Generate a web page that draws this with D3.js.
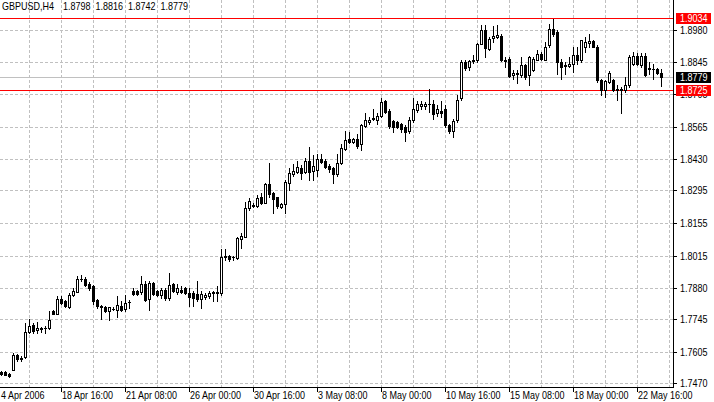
<!DOCTYPE html>
<html><head><meta charset="utf-8">
<script src="https://cdn.jsdelivr.net/npm/d3@7/dist/d3.min.js"></script>
<style>
html,body{margin:0;padding:0;background:#fff;}
svg{display:block;}
text{font-family:"Liberation Sans",Arial,sans-serif;font-size:10px;fill:#000;}
</style></head>
<body>
<svg id="chart" width="714" height="402"></svg>
<script>
const symbolLabel = "GBPUSD,H4";
const opens = [1.7517,1.7517,1.7509,1.7527,1.7593,1.7573,1.7584,1.7689,1.7718,1.7698,1.7703,1.7705,1.7705,1.7779,1.7767,1.7831,1.7821,1.7797,1.7847,1.7862,1.7917,1.7917,1.7897,1.7888,1.7828,1.7803,1.7796,1.7779,1.7789,1.7786,1.7803,1.7789,1.7820,1.7867,1.7864,1.7860,1.7895,1.7831,1.7900,1.7864,1.7847,1.7871,1.7836,1.7895,1.7861,1.7871,1.7878,1.7857,1.7857,1.7853,1.7833,1.7838,1.7843,1.7857,1.7857,1.7857,1.8015,1.8013,1.8009,1.8006,1.8087,1.8098,1.8222,1.8230,1.8229,1.8269,1.8243,1.8321,1.8283,1.8266,1.8226,1.8237,1.8328,1.8364,1.8372,1.8392,1.8372,1.8422,1.8379,1.8382,1.8428,1.8422,1.8401,1.8392,1.8364,1.8411,1.8472,1.8513,1.8503,1.8513,1.8493,1.8571,1.8588,1.8601,1.8598,1.8612,1.8677,1.8635,1.8591,1.8588,1.8578,1.8567,1.8550,1.8595,1.8638,1.8655,1.8655,1.8663,1.8663,1.8624,1.8635,1.8642,1.8574,1.8550,1.8595,1.8688,1.8844,1.8822,1.8847,1.8851,1.8922,1.8979,1.8901,1.8947,1.8950,1.8957,1.8848,1.8858,1.8787,1.8797,1.8787,1.8830,1.8787,1.8811,1.8854,1.8879,1.8854,1.8915,1.8986,1.8971,1.8844,1.8830,1.8825,1.8837,1.8872,1.8851,1.8910,1.8925,1.8933,1.8910,1.8766,1.8723,1.8758,1.8769,1.8730,1.8723,1.8726,1.8744,1.8834,1.8868,1.8830,1.8868,1.8820,1.8816,1.8816,1.8798];
const highs = [1.7522,1.7522,1.7513,1.7601,1.7595,1.7587,1.7729,1.7746,1.7729,1.7732,1.7712,1.7715,1.7779,1.7782,1.7843,1.7843,1.7826,1.7857,1.7878,1.7931,1.7935,1.7925,1.7904,1.7893,1.7831,1.7805,1.7800,1.7797,1.7799,1.7843,1.7821,1.7850,1.7828,1.7878,1.7869,1.7928,1.7906,1.7906,1.7904,1.7869,1.7878,1.7878,1.7942,1.7900,1.7895,1.7885,1.7881,1.7878,1.7864,1.7909,1.7864,1.7857,1.7864,1.7864,1.7885,1.8044,1.8045,1.8020,1.8016,1.8098,1.8113,1.8247,1.8262,1.8243,1.8275,1.8283,1.8328,1.8413,1.8290,1.8269,1.8243,1.8340,1.8389,1.8408,1.8422,1.8403,1.8432,1.8479,1.8446,1.8450,1.8450,1.8428,1.8408,1.8396,1.8450,1.8493,1.8550,1.8546,1.8519,1.8536,1.8581,1.8624,1.8609,1.8645,1.8624,1.8688,1.8683,1.8641,1.8598,1.8591,1.8584,1.8574,1.8607,1.8688,1.8677,1.8677,1.8673,1.8730,1.8683,1.8659,1.8677,1.8659,1.8581,1.8602,1.8702,1.8851,1.8851,1.8854,1.8872,1.8925,1.9000,1.9000,1.8950,1.8996,1.9000,1.8964,1.8865,1.8865,1.8808,1.8808,1.8865,1.8837,1.8868,1.8865,1.8896,1.8886,1.8929,1.9007,1.9028,1.8979,1.8858,1.8844,1.8865,1.8907,1.8907,1.8939,1.8950,1.8964,1.8936,1.8915,1.8773,1.8766,1.8804,1.8773,1.8744,1.8737,1.8780,1.8872,1.8886,1.8882,1.8882,1.8882,1.8844,1.8837,1.8820,1.8816];
const lows = [1.7505,1.7505,1.7498,1.7526,1.7567,1.7564,1.7581,1.7684,1.7686,1.7684,1.7692,1.7686,1.7701,1.7765,1.7766,1.7808,1.7796,1.7793,1.7843,1.7860,1.7906,1.7888,1.7871,1.7810,1.7793,1.7746,1.7774,1.7743,1.7782,1.7753,1.7779,1.7779,1.7793,1.7850,1.7848,1.7853,1.7821,1.7786,1.7850,1.7846,1.7836,1.7828,1.7828,1.7861,1.7853,1.7857,1.7853,1.7800,1.7800,1.7821,1.7793,1.7833,1.7836,1.7824,1.7821,1.7850,1.7999,1.7995,1.7999,1.8002,1.8050,1.8095,1.8212,1.8226,1.8226,1.8237,1.8240,1.8269,1.8200,1.8219,1.8219,1.8200,1.8297,1.8357,1.8368,1.8343,1.8368,1.8340,1.8340,1.8357,1.8411,1.8389,1.8375,1.8326,1.8357,1.8408,1.8467,1.8496,1.8497,1.8475,1.8467,1.8567,1.8581,1.8595,1.8581,1.8607,1.8624,1.8560,1.8546,1.8561,1.8546,1.8507,1.8539,1.8588,1.8630,1.8645,1.8645,1.8630,1.8602,1.8612,1.8607,1.8565,1.8539,1.8524,1.8588,1.8680,1.8811,1.8808,1.8839,1.8844,1.8919,1.8865,1.8896,1.8929,1.8947,1.8848,1.8822,1.8780,1.8773,1.8752,1.8780,1.8773,1.8744,1.8805,1.8851,1.8851,1.8851,1.8907,1.8957,1.8794,1.8773,1.8791,1.8822,1.8801,1.8834,1.8844,1.8886,1.8907,1.8907,1.8758,1.8702,1.8695,1.8752,1.8720,1.8680,1.8626,1.8716,1.8737,1.8830,1.8830,1.8822,1.8783,1.8794,1.8773,1.8794,1.8742];
const closes = [1.7509,1.7507,1.7502,1.7593,1.7573,1.7581,1.7691,1.7715,1.7696,1.7708,1.7705,1.7706,1.7740,1.7767,1.7831,1.7814,1.7800,1.7850,1.7864,1.7918,1.7916,1.7893,1.7878,1.7821,1.7800,1.7799,1.7779,1.7796,1.7790,1.7807,1.7786,1.7814,1.7817,1.7853,1.7853,1.7895,1.7828,1.7900,1.7853,1.7850,1.7871,1.7836,1.7893,1.7864,1.7878,1.7861,1.7857,1.7838,1.7836,1.7833,1.7853,1.7850,1.7857,1.7859,1.7862,1.8010,1.8009,1.8002,1.8010,1.8091,1.8101,1.8219,1.8251,1.8231,1.8262,1.8243,1.8321,1.8279,1.8260,1.8229,1.8237,1.8332,1.8368,1.8379,1.8396,1.8371,1.8422,1.8375,1.8399,1.8428,1.8418,1.8396,1.8385,1.8364,1.8411,1.8475,1.8510,1.8503,1.8513,1.8484,1.8574,1.8598,1.8598,1.8603,1.8612,1.8673,1.8630,1.8570,1.8567,1.8567,1.8556,1.8546,1.8598,1.8641,1.8666,1.8666,1.8663,1.8664,1.8621,1.8641,1.8624,1.8574,1.8551,1.8591,1.8683,1.8844,1.8820,1.8848,1.8851,1.8922,1.8979,1.8905,1.8943,1.8953,1.8959,1.8851,1.8854,1.8783,1.8797,1.8791,1.8830,1.8780,1.8865,1.8858,1.8879,1.8858,1.8910,1.8986,1.8962,1.8842,1.8822,1.8828,1.8837,1.8872,1.8851,1.8936,1.8929,1.8933,1.8910,1.8766,1.8723,1.8761,1.8797,1.8726,1.8723,1.8730,1.8744,1.8865,1.8868,1.8834,1.8868,1.8787,1.8814,1.8815,1.8797,1.8779];
const yTickLabels = ["1.8980","1.8845","1.8705","1.8565","1.8430","1.8295","1.8155","1.8015","1.7880","1.7745","1.7605","1.7470"];
const firstDateLabel = "4 Apr 2006";
const xTickLabels = ["18 Apr 16:00","21 Apr 08:00","26 Apr 00:00","30 Apr 16:00","3 May 08:00","8 May 00:00","10 May 16:00","15 May 08:00","18 May 00:00","22 May 16:00"];
const xTickBars = [15,31,47,63,79,95,111,127,143,159];
const redLevels = [1.9034, 1.8725];
const bidLevel = 1.8779;

const W = 714, H = 402, plotR = 673, plotB = 387;
const SX = 0.9; // horizontal text compression to mimic the narrow bitmap UI font
const svg = d3.select("#chart");
const x = d3.scaleLinear().domain([-0.25, 168]).range([0, plotR]);
const y = d3.scaleLinear().domain([1.74550, 1.91088]).range([plotB, 0]);
const py = v => Math.round(y(v));
const px = i => Math.round(x(i));

const bars = opens.map((o, i) => ({i, o, h: highs[i], l: lows[i], c: closes[i]}));

const g = svg.append("g").attr("shape-rendering", "crispEdges");

// grid
const gridColor = "#c0c0c0";
g.selectAll("line.hg").data(yTickLabels).join("line")
  .attr("x1", 0).attr("x2", plotR)
  .attr("y1", d => py(+d) + 0.5).attr("y2", d => py(+d) + 0.5)
  .attr("stroke", gridColor).attr("stroke-dasharray", "3,2");
const vGrid = d3.range(7, 168, 8);
g.selectAll("line.vg").data(vGrid).join("line")
  .attr("x1", d => px(d) + 0.5).attr("x2", d => px(d) + 0.5)
  .attr("y1", 0).attr("y2", plotB)
  .attr("stroke", gridColor).attr("stroke-dasharray", "3,2");

// level lines
g.append("line").attr("x1", 0).attr("x2", plotR)
  .attr("y1", py(bidLevel) + 0.5).attr("y2", py(bidLevel) + 0.5).attr("stroke", "#c0c0c0");
g.selectAll("line.red").data(redLevels).join("line")
  .attr("x1", 0).attr("x2", plotR)
  .attr("y1", d => py(d) + 0.5).attr("y2", d => py(d) + 0.5).attr("stroke", "#ff0000");

// candles
const cg = g.append("g");
bars.forEach(b => {
  const cx = px(b.i);
  cg.append("line").attr("x1", cx + 0.5).attr("x2", cx + 0.5)
    .attr("y1", py(b.h)).attr("y2", py(b.l) + 1).attr("stroke", "#000");
  const top = py(Math.max(b.o, b.c)), bot = py(Math.min(b.o, b.c));
  if (bot - top < 1) {
    cg.append("rect").attr("x", cx - 1).attr("y", top).attr("width", 3).attr("height", 1).attr("fill", "#000");
  } else if (b.c >= b.o) {
    cg.append("rect").attr("x", cx - 0.5).attr("y", top + 0.5).attr("width", 2).attr("height", bot - top)
      .attr("fill", "#fff").attr("stroke", "#000");
  } else {
    cg.append("rect").attr("x", cx - 1).attr("y", top).attr("width", 3).attr("height", bot - top + 1).attr("fill", "#000");
  }
});

// frame
g.append("line").attr("x1", plotR + 0.5).attr("x2", plotR + 0.5).attr("y1", 0).attr("y2", plotB + 1).attr("stroke", "#000");
g.append("line").attr("x1", 0).attr("x2", plotR + 1).attr("y1", plotB + 0.5).attr("y2", plotB + 0.5).attr("stroke", "#000");

// y axis ticks
g.selectAll("line.yt").data(yTickLabels).join("line")
  .attr("x1", plotR).attr("x2", plotR + 4)
  .attr("y1", d => py(+d) + 0.5).attr("y2", d => py(+d) + 0.5).attr("stroke", "#000");
// x axis ticks
g.selectAll("line.xt").data(xTickBars).join("line")
  .attr("x1", d => px(d) + 0.5).attr("x2", d => px(d) + 0.5)
  .attr("y1", plotB).attr("y2", plotB + 5).attr("stroke", "#000");

// text layer (horizontally compressed)
const tg = svg.append("g").attr("transform", `scale(${SX},1)`);
function label(xx, yy, t, color) {
  const el = tg.append("text").attr("x", xx / SX).attr("y", yy).text(t);
  if (color) el.style("fill", color);
  return el;
}
yTickLabels.forEach(d => label(plotR + 7, py(+d) + 4, d));
label(1, 399, firstDateLabel);
xTickLabels.forEach((d, k) => label(px(xTickBars[k]) + 1, 399, d));

// price tags
const tagG = svg.append("g").attr("transform", `scale(${SX},1)`);
redLevels.concat([bidLevel]).forEach(v => {
  tagG.append("rect").attr("x", (plotR + 3) / SX).attr("y", py(v) - 5).attr("width", 35 / SX).attr("height", 11)
    .attr("fill", v === bidLevel ? "#000" : "#ff0000").attr("shape-rendering", "crispEdges");
  tagG.append("text").attr("x", (plotR + 7) / SX).attr("y", py(v) + 4).style("fill", "#fff").text(v.toFixed(4));
});

// header
const last = bars[bars.length - 1];
const headerItems = [symbolLabel, last.o.toFixed(4), last.h.toFixed(4), last.l.toFixed(4), last.c.toFixed(4)];
let hx = 2;
headerItems.forEach((t, k) => {
  const tx = label(hx, 10, t);
  hx += tx.node().getComputedTextLength() * SX + (k === 0 ? 9 : 5);
});
</script>
</body></html>
